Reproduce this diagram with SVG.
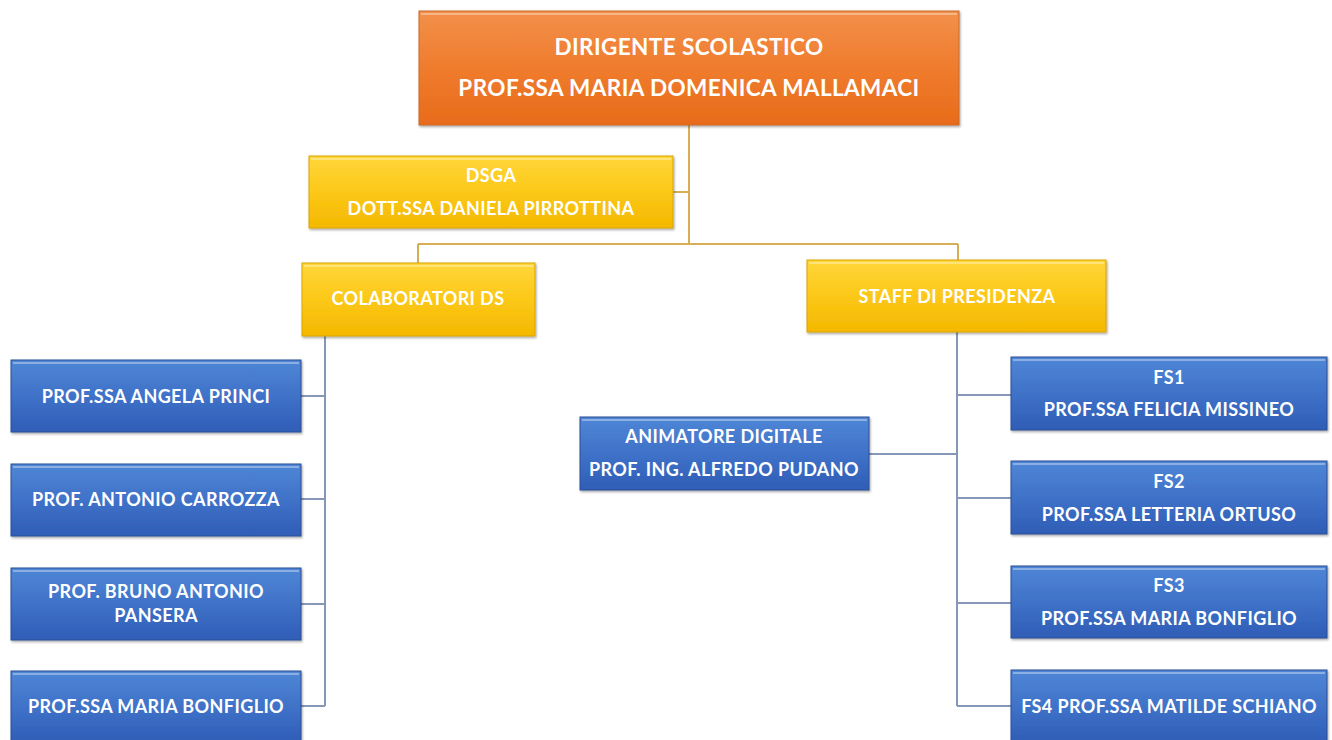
<svg xmlns="http://www.w3.org/2000/svg" width="1332" height="740" viewBox="0 0 1332 740">
<defs>
<linearGradient id="gOr" x1="0" y1="0" x2="0" y2="1"><stop offset="0" stop-color="#f3904a"/><stop offset="0.5" stop-color="#ef7c2e"/><stop offset="1" stop-color="#e86b1a"/></linearGradient>
<linearGradient id="gYe" x1="0" y1="0" x2="0" y2="1"><stop offset="0" stop-color="#ffd63a"/><stop offset="0.5" stop-color="#fcc818"/><stop offset="1" stop-color="#f4b800"/></linearGradient>
<linearGradient id="gBl" x1="0" y1="0" x2="0" y2="1"><stop offset="0" stop-color="#4f86d6"/><stop offset="0.5" stop-color="#3f72c8"/><stop offset="1" stop-color="#2f5db6"/></linearGradient>
<filter id="sh" x="-5%" y="-10%" width="110%" height="125%"><feDropShadow dx="1" dy="1.5" stdDeviation="1.2" flood-color="#000" flood-opacity="0.35"/></filter>
</defs>
<style>
.box{filter:url(#sh);stroke-width:1}
.or{fill:url(#gOr);stroke:#c96a2a}
.ye{fill:url(#gYe);stroke:#d9a400}
.bl{fill:url(#gBl);stroke:#2c4f96}
.hl{fill:none;stroke:#ffffff;stroke-opacity:0.35;stroke-width:2}
text{font-family:Lato,"Liberation Sans",sans-serif;font-weight:bold;fill:#ffffff;text-anchor:middle;font-size:18px;letter-spacing:0.4px}
.big{font-size:22.5px;letter-spacing:0.4px}
.cy{fill:none;stroke:#d6ae55;stroke-width:2}
.cb{fill:none;stroke:#8797b8;stroke-width:2}
</style>
<rect width="1332" height="740" fill="#ffffff"/>
<g id="connectors">
<path class="cy" d="M689 125 V244 M673 192 H689 M418 244 H958 M418 244 V263 M958 244 V260"/>
<path class="cb" d="M325 336 V706 M301 396 H325 M301 499 H325 M301 604 H325 M301 706 H325"/>
<path class="cb" d="M957 332 V706 M957 395 H1011 M957 498 H1011 M957 603 H1011 M957 706 H1011 M869 454 H957"/>
</g>
<g id="dirigente">
<rect class="box or" x="419" y="11" width="540" height="114"/>
<path class="hl" d="M421 14 H957"/>
<text class="big" x="689" y="55">DIRIGENTE SCOLASTICO</text>
<text class="big" x="689" y="96">PROF.SSA MARIA DOMENICA MALLAMACI</text>
</g>
<g id="dsga">
<rect class="box ye" x="309" y="156" width="364" height="72"/>
<path class="hl" d="M311 159 H671"/>
<text x="491" y="182">DSGA</text>
<text x="491" y="215">DOTT.SSA DANIELA PIRROTTINA</text>
</g>
<g id="colaboratori">
<rect class="box ye" x="302" y="263" width="233" height="73"/>
<path class="hl" d="M304 266 H533"/>
<text x="418" y="305">COLABORATORI  DS</text>
</g>
<g id="staff">
<rect class="box ye" x="807" y="260" width="299" height="72"/>
<path class="hl" d="M809 263 H1104"/>
<text x="957" y="303">STAFF DI PRESIDENZA</text>
</g>
<g id="princi">
<rect class="box bl" x="11" y="360" width="290" height="72"/>
<path class="hl" d="M13 363 H299"/>
<text x="156" y="403">PROF.SSA ANGELA PRINCI</text>
</g>
<g id="carrozza">
<rect class="box bl" x="11" y="464" width="290" height="72"/>
<path class="hl" d="M13 467 H299"/>
<text x="156" y="506">PROF. ANTONIO CARROZZA</text>
</g>
<g id="pansera">
<rect class="box bl" x="11" y="568" width="290" height="72"/>
<path class="hl" d="M13 571 H299"/>
<text x="156" y="598">PROF. BRUNO ANTONIO</text>
<text x="156" y="622">PANSERA</text>
</g>
<g id="bonfiglio-ds">
<rect class="box bl" x="11" y="671" width="290" height="72"/>
<path class="hl" d="M13 674 H299"/>
<text x="156" y="713">PROF.SSA MARIA BONFIGLIO</text>
</g>
<g id="animatore">
<rect class="box bl" x="580" y="417" width="289" height="73"/>
<path class="hl" d="M582 420 H867"/>
<text x="724" y="443">ANIMATORE DIGITALE</text>
<text x="724" y="476">PROF. ING. ALFREDO PUDANO</text>
</g>
<g id="fs1">
<rect class="box bl" x="1011" y="357" width="316" height="73"/>
<path class="hl" d="M1013 360 H1325"/>
<text x="1169" y="384">FS1</text>
<text x="1169" y="416">PROF.SSA FELICIA MISSINEO</text>
</g>
<g id="fs2">
<rect class="box bl" x="1011" y="461" width="316" height="73"/>
<path class="hl" d="M1013 464 H1325"/>
<text x="1169" y="488">FS2</text>
<text x="1169" y="521">PROF.SSA LETTERIA ORTUSO</text>
</g>
<g id="fs3">
<rect class="box bl" x="1011" y="566" width="316" height="72"/>
<path class="hl" d="M1013 569 H1325"/>
<text x="1169" y="592">FS3</text>
<text x="1169" y="625">PROF.SSA MARIA BONFIGLIO</text>
</g>
<g id="fs4">
<rect class="box bl" x="1011" y="670" width="316" height="73"/>
<path class="hl" d="M1013 673 H1325"/>
<text x="1169" y="713">FS4 PROF.SSA MATILDE SCHIANO</text>
</g>
</svg>
